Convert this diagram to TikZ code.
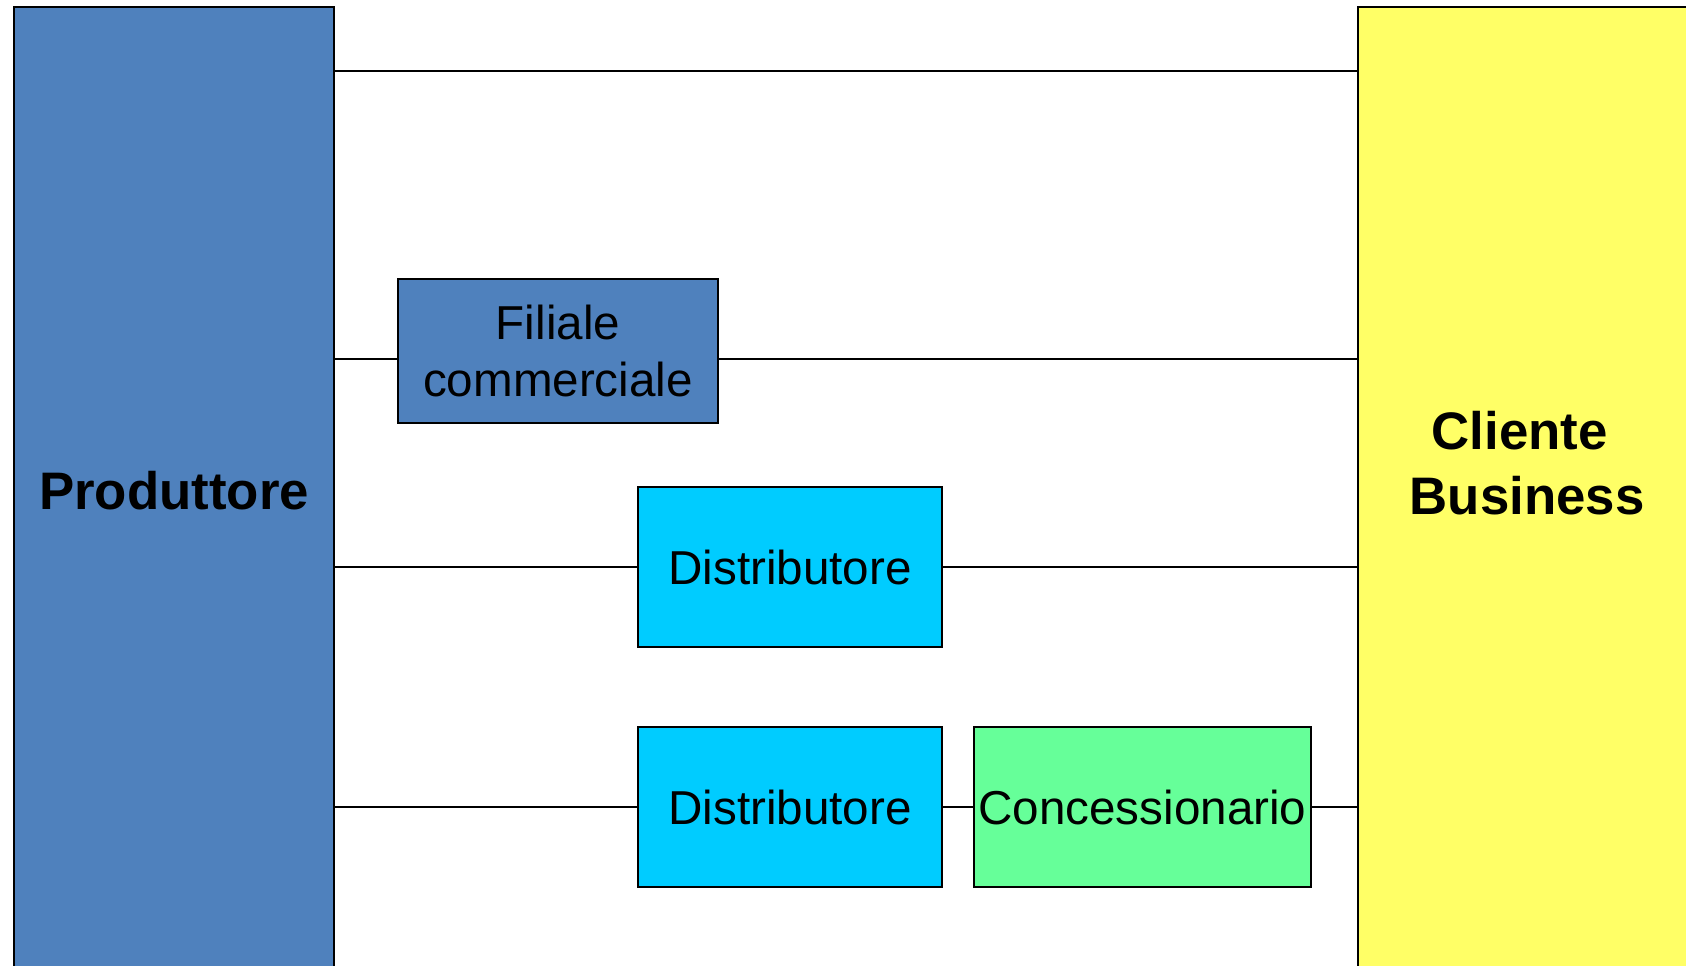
\documentclass[tikz,border=0pt]{standalone}
\usepackage{fontspec}
\setmainfont{Liberation Sans}
\definecolor{prodblue}{HTML}{4F81BD}
\definecolor{distcyan}{HTML}{00CCFF}
\definecolor{concgreen}{HTML}{66FF99}
\definecolor{clientyellow}{HTML}{FFFF66}
\begin{document}
\begin{tikzpicture}[x=1pt,y=-1pt,
  box/.style={draw=black, line width=1.8pt, inner sep=0pt, align=center, rectangle},
  smalltext/.style={font=\fontsize{47.6}{57}\selectfont},
  bigtext/.style={font=\fontsize{52.8}{65}\selectfont\bfseries, align=center, inner sep=0pt},
  link/.style={draw=black, line width=1.8pt}]
\clip (0,0) rectangle (1686,966);
\fill[white] (0,0) rectangle (1686,966);

% producer and customer columns
\node[box, fill=prodblue, minimum width=320pt, minimum height=968pt, bigtext] (P) at (174,491) {Produttore};
\node[box, fill=clientyellow, minimum width=340pt, minimum height=968pt] (Y) at (1528,491) {};
\node[bigtext] (Ylabel) at (1527,463) {Cliente\kern14.7pt\\Business};

% intermediaries
\node[box, fill=prodblue, minimum width=320.6pt, minimum height=144.3pt, smalltext] (F) at (558,351) {Filiale\\commerciale};
\node[box, fill=distcyan, minimum width=304.6pt, minimum height=160pt, smalltext] (D1) at (790,567) {Distributore};
\node[box, fill=distcyan, minimum width=304.6pt, minimum height=160pt, smalltext] (D2) at (790,807.3) {Distributore};
\node[box, fill=concgreen, minimum width=336.4pt, minimum height=160pt, smalltext] (C) at (1142.4,807.3) {Concessionario};

\coordinate (direct) at (800,71);
\coordinate (branch) at (800,359);

% channels
\draw[link] (P.east |- direct) -- (Y.west |- direct);
\draw[link] (P.east |- branch) -- (F.west |- branch);
\draw[link] (F.east |- branch) -- (Y.west |- branch);
\draw[link] (P.east |- D1.west) -- (D1.west);
\draw[link] (D1.east) -- (Y.west |- D1.east);
\draw[link] (P.east |- D2.west) -- (D2.west);
\draw[link] (D2.east) -- (C.west);
\draw[link] (C.east) -- (Y.west |- C.east);
\end{tikzpicture}
\end{document}
